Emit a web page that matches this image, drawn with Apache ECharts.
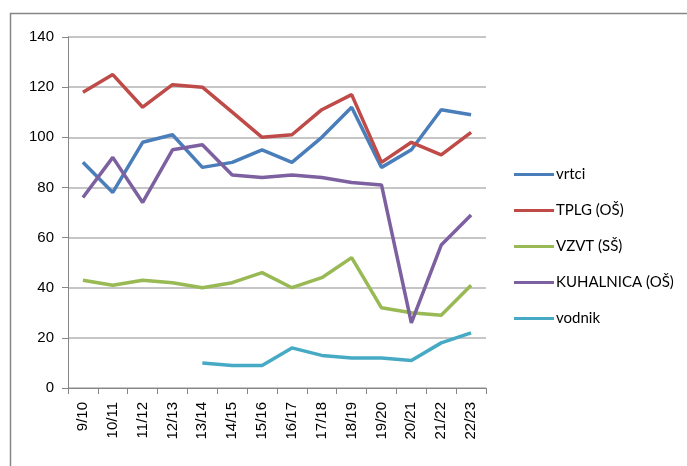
<!DOCTYPE html>
<html style="height: 100%">

<head>
  <meta charset="utf-8">
  <title>vrtci</title>
</head>

<body style="height: 100%; margin: 0; background: #fff">
  <div id="container" style="width: 687px; height: 466px"></div>
  <script type="text/javascript" src="https://cdn.jsdelivr.net/npm/echarts@6/dist/echarts.min.js"></script>
  <script type="text/javascript">
    var years = ['9/10', '10/11', '11/12', '12/13', '13/14', '14/15', '15/16', '16/17', '17/18', '18/19', '19/20', '20/21', '21/22', '22/23'];
    var vrtci = [90, 78, 98, 101, 88, 90, 95, 90, 100, 112, 88, 95, 111, 109];
    var tplg = [118, 125, 112, 121, 120, 110, 100, 101, 111, 117, 90, 98, 93, 102];
    var vzvt = [43, 41, 43, 42, 40, 42, 46, 40, 44, 52, 32, 30, 29, 41];
    var kuhalnica = [76, 92, 74, 95, 97, 85, 84, 85, 84, 82, 81, 26, 57, 69];
    var vodnik = [null, null, null, null, 10, 9, 9, 16, 13, 12, 12, 11, 18, 22];

    var names = ['vrtci', 'TPLG (OŠ)', 'VZVT (SŠ)', 'KUHALNICA (OŠ)', 'vodnik'];
    var colors = ['#4a7ebb', '#be4b48', '#98b954', '#7d60a0', '#46aac5'];
    var values = [vrtci, tplg, vzvt, kuhalnica, vodnik];

    var dom = document.getElementById("container");
    var myChart = echarts.init(dom);

    var series = [];
    for (var i = 0; i < names.length; i++) {
      series.push({
        name: names[i],
        type: 'line',
        data: values[i],
        showSymbol: false,
        symbol: 'none',
        color: colors[i],
        lineStyle: { width: 3.5, color: colors[i] }
      });
    }

    var option = {
      animation: false,
      backgroundColor: '#fff',
      // outer frame of the picture
      graphic: [{
        type: 'polyline',
        shape: { points: [[10.5, 466], [10.5, 13.5], [687, 13.5]] },
        style: { stroke: '#868686', lineWidth: 1.5, fill: null }
      }],
      grid: {
        left: 68,
        right: 201,
        top: 37,
        bottom: 78
      },
      legend: {
        orient: 'vertical',
        left: 509,
        top: 162,
        icon: 'rect',
        itemWidth: 40,
        itemHeight: 3,
        itemGap: 21,
        textStyle: { fontFamily: 'Lato', fontSize: 15, color: '#000', padding: [0, 0, 0, -3] },
        data: names
      },
      xAxis: {
        type: 'category',
        data: years,
        boundaryGap: true,
        axisLine: { lineStyle: { color: '#868686', width: 1 } },
        axisTick: { show: true, length: 6, lineStyle: { color: '#868686' } },
        axisLabel: {
          rotate: 90,
          margin: 14,
          interval: 0,
          fontFamily: 'Liberation Sans',
          fontSize: 15,
          color: '#000'
        }
      },
      yAxis: {
        type: 'value',
        min: 0,
        max: 140,
        interval: 20,
        axisLine: { show: true, lineStyle: { color: '#868686', width: 1 } },
        axisTick: { show: true, inside: false, length: 6, lineStyle: { color: '#868686' } },
        axisLabel: {
          margin: 14,
          fontFamily: 'Liberation Sans',
          fontSize: 15,
          color: '#000'
        },
        splitLine: { lineStyle: { color: '#b3b3b3', width: 1.5 } }
      },
      series: series
    };

    if (option && typeof option === "object") {
      myChart.setOption(option, true);
    }
  </script>
</body>

</html>
